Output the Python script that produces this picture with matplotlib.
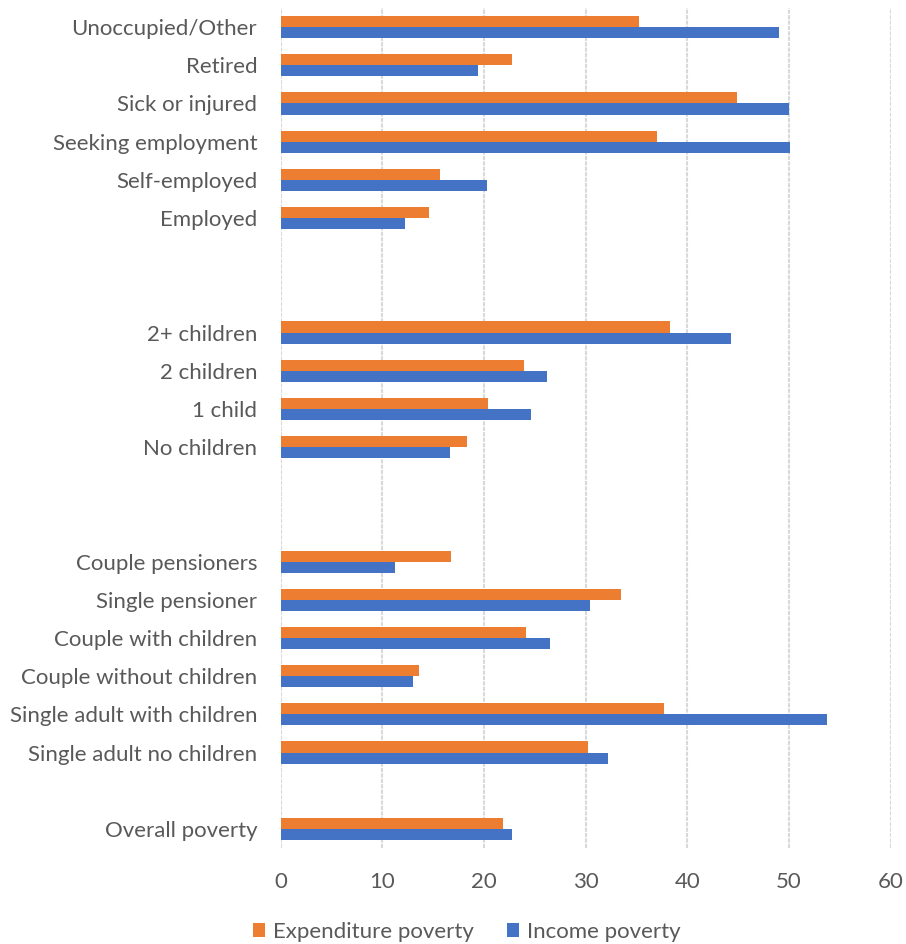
import numpy as np
import matplotlib.pyplot as plt

# rows from bottom to top, blank strings are spacer rows
categories = ["Overall poverty", "",
              "Single adult no children", "Single adult with children",
              "Couple without children", "Couple with children",
              "Single pensioner", "Couple pensioners", "", "",
              "No children", "1 child", "2 children", "2+ children", "", "",
              "Employed", "Self-employed", "Seeking employment",
              "Sick or injured", "Retired", "Unoccupied/Other"]

expenditure = [21.9, np.nan,
               30.2, 37.7, 13.6, 24.1, 33.5, 16.7, np.nan, np.nan,
               18.3, 20.4, 23.9, 38.3, np.nan, np.nan,
               14.6, 15.7, 37.0, 44.9, 22.7, 35.2]
income = [22.7, np.nan,
          32.2, 53.7, 13.0, 26.5, 30.4, 11.2, np.nan, np.nan,
          16.6, 24.6, 26.2, 44.3, np.nan, np.nan,
          12.2, 20.3, 50.1, 50.0, 19.4, 49.0]

plt.rcParams['font.family'] = ['Lato', 'DejaVu Sans']
txt = '#595959'

fig = plt.figure(figsize=(9.06, 9.44), dpi=100)
ax = fig.add_axes([0.310, 0.1017, 0.673, 0.8898])

y = np.arange(len(categories))
h = 0.29
ax.barh(y + h/2, expenditure, height=h, color='#ED7D31', label='Expenditure poverty', zorder=3)
ax.barh(y - h/2, income, height=h, color='#4472C4', label='Income poverty', zorder=3)

ax.set_ylim(-0.5, len(categories) - 0.5)
ax.set_xlim(0, 60)
ax.set_xticks(range(0, 61, 10))
ax.set_yticks(y)
ax.set_yticklabels(categories)
ax.tick_params(length=0, labelsize=16, labelcolor=txt)
ax.tick_params(axis='y', pad=17)
ax.tick_params(axis='x', pad=17)
ax.grid(axis='x', color='#d9d9d9', linestyle=(0, (2, 0.6)), linewidth=1.5, zorder=0)
for s in ax.spines.values():
    s.set_visible(False)

leg = fig.legend(loc='lower center', bbox_to_anchor=(0.515, -0.019), ncol=2, frameon=False,
                 fontsize=16, handlelength=0.55, handleheight=0.55, columnspacing=1.5,
                 handletextpad=0.35)
for t in leg.get_texts():
    t.set_color(txt)

fig.savefig('out.png', dpi=100)
